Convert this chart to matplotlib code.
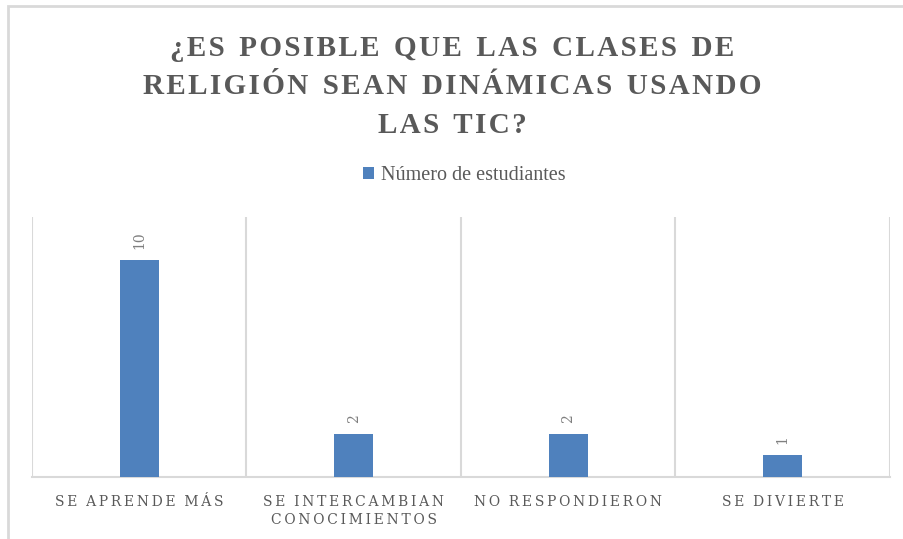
import numpy as np
import matplotlib
matplotlib.use('Agg')
import matplotlib.pyplot as plt
from matplotlib.patches import Rectangle

# data
categories = ['SE APRENDE MÁS', 'SE INTERCAMBIAN\nCONOCIMIENTOS', 'NO RESPONDIERON', 'SE DIVIERTE']
values = [10, 2, 2, 1]
series_name = 'Número de estudiantes'
title = '¿ES POSIBLE QUE LAS CLASES DE\nRELIGIÓN SEAN DINÁMICAS USANDO\nLAS TIC?'

TEXT = '#595959'
GRID = '#d9d9d9'
BLUE = '#4f81bd'


def spaced(s, sep='\u2009', gap='  '):
    # fake letter spacing: put a thin space between letters of each word
    lines = []
    for line in s.split('\n'):
        words = [sep.join(w) for w in line.split(' ')]
        lines.append(gap.join(words))
    return '\n'.join(lines)


fig = plt.figure(figsize=(9.04, 5.39), dpi=100)
ax = fig.add_axes([32 / 904, 1 - 477 / 539, (890 - 32) / 904, (477 - 217) / 539])

x = np.arange(len(categories))
bars = ax.bar(x, values, width=0.18, color=BLUE, label=series_name, zorder=3)

for xi, v in zip(x, values):
    ax.annotate(str(v), (xi, v), xytext=(0, 8), textcoords='offset points',
                rotation=90, ha='center', va='bottom', fontsize=10,
                color='#7f7f7f', family='DejaVu Serif')

ax.set_xlim(-0.5, len(categories) - 0.5)
ax.set_ylim(0, 12)
ax.set_yticks([])
ax.set_xticks(x)
ax.set_xticklabels([spaced(c) for c in categories], fontsize=10,
                   color=TEXT, family='DejaVu Serif', linespacing=1.4)
ax.tick_params(axis='x', length=0, pad=13)
ax.set_xticks(np.arange(-0.5, len(categories)), minor=True)
ax.tick_params(axis='x', which='minor', length=0)
ax.grid(True, which='minor', axis='x', color=GRID, linewidth=1.5, zorder=0)
for side in ['left', 'right', 'top']:
    ax.spines[side].set_visible(False)
ax.spines['bottom'].set_color(GRID)
ax.spines['bottom'].set_linewidth(1.5)

fig.text(0.5, 1 - 87 / 539, spaced(title, '\u200a', '  '), ha='center', va='center',
         fontsize=21, fontweight='bold',
         family=['Liberation Serif', 'DejaVu Serif'],
         color=TEXT, linespacing=1.56)

ax.legend(loc='center', bbox_to_anchor=(464 / 904, 1 - 176 / 539),
          bbox_transform=fig.transFigure, frameon=False, handlelength=0.55,
          handleheight=0.55, handletextpad=0.35,
          prop={'family': 'Liberation Serif', 'size': 14.5}, labelcolor=TEXT)

# outer chart border (cropped at right and bottom)
fig.patches.append(Rectangle((8 / 904, -0.2), 2, 1.2 - 6 / 539, fill=False,
                             edgecolor=GRID, linewidth=2,
                             transform=fig.transFigure, figure=fig))

plt.savefig('out.png', dpi=100)
plt.close()
